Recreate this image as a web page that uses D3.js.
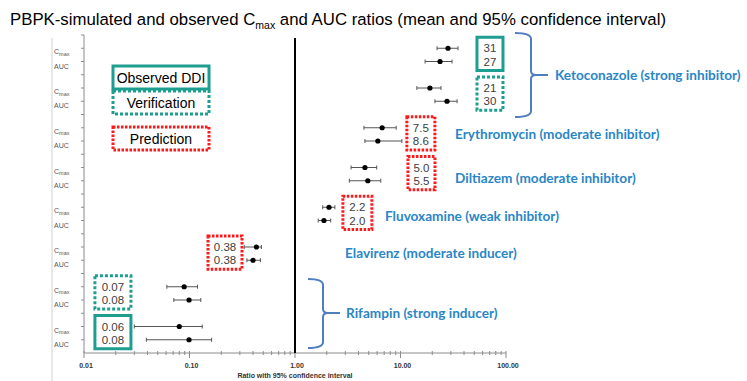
<!DOCTYPE html>
<html>
<head>
<meta charset="utf-8">
<script src="https://cdn.jsdelivr.net/npm/d3@7"></script>
<style>
  body { margin: 0; background: #fff; }
  svg { display: block; }
</style>
</head>
<body>
<div id="chart"></div>
<script>
// rows top to bottom: one per study arm
const groups = ["Ketoconazole obs", "Ketoconazole ver", "Erythromycin", "Diltiazem",
                "Fluvoxamine", "Efavirenz", "Rifampin ver", "Rifampin obs"];
const cmaxMean = [28.2, 19.0, 6.7, 4.6, 2.1, 0.43, 0.089, 0.080];
const cmaxLow  = [22.2, 14.3, 4.5, 3.4, 1.83, 0.33, 0.061, 0.030];
const cmaxHigh = [35.1, 24.2, 9.1, 5.95, 2.39, 0.48, 0.119, 0.132];
const aucMean  = [23.7, 27.6, 6.1, 4.9, 1.88, 0.40, 0.099, 0.099];
const aucLow   = [17.1, 21.2, 4.6, 3.27, 1.66, 0.35, 0.071, 0.039];
const aucHigh  = [30.8, 34.4, 10.3, 6.5, 2.18, 0.47, 0.128, 0.162];

// numbers written in the boxes
const cmaxText = ["31", "21", "7.5", "5.0", "2.2", "0.38", "0.07", "0.06"];
const aucText  = ["27", "30", "8.6", "5.5", "2.0", "0.38", "0.08", "0.08"];
const boxKind  = ["obs", "ver", "pred", "pred", "pred", "pred", "ver", "obs"];

const legendKinds  = ["obs", "ver", "pred"];
const legendLabels = ["Observed DDI", "Verification", "Prediction"];

const drugLabels = ["Ketoconazole (strong inhibitor)", "Erythromycin (moderate inhibitor)",
                    "Diltiazem (moderate inhibitor)", "Fluvoxamine (weak inhibitor)",
                    "Elavirenz (moderate inducer)", "Rifampin (strong inducer)"];

const xTicks = [0.01, 0.1, 1, 10, 100];
const xTickLabels = ["0.01", "0.10", "1.00", "10.00", "100.00"];

const W = 747, H = 381;
const teal = "#1e9e90", red = "#ff1a1a", blue = "#2a86c6", braceBlue = "#4f7fc0";

const svg = d3.select("#chart").append("svg").attr("width", W).attr("height", H);

const x = d3.scaleLog().domain([0.01, 100]).range([84, 506]);
// 24 slots: three per arm (Cmax, AUC, gap)
const y = d3.scaleLinear().domain([0, 24]).range([35, 353]);
const rowC = i => y(3 * i + 1);
const rowA = i => y(3 * i + 2);

// panel border
svg.append("line").attr("x1", 52).attr("x2", 52).attr("y1", 38).attr("y2", H)
    .style("stroke", "#d0d0d0").style("stroke-width", 1);

// title
const title = svg.append("text").attr("x", 10).attr("y", 25)
    .style("font-family", "Liberation Sans, Arial, sans-serif").style("font-size", "16.8px").style("fill", "#000");
title.append("tspan").text("PBPK-simulated and observed C");
title.append("tspan").text("max").style("font-size", "10.5px").attr("dy", 4);
title.append("tspan").text(" and AUC ratios (mean and 95% confidence interval)").attr("dy", -4);

// y axis
const yAxis = svg.append("g").attr("class", "y-axis");
yAxis.append("line").attr("x1", 84).attr("x2", 84).attr("y1", y(0)).attr("y2", y(24))
    .style("stroke", "#8c8c8c");
yAxis.selectAll("line.tick").data(d3.range(0, 24)).enter().append("line").attr("class", "tick")
    .attr("x1", 81).attr("x2", 84).attr("y1", d => y(d)).attr("y2", d => y(d))
    .style("stroke", "#8c8c8c");

const rowLabels = svg.append("g").style("font-family", "Liberation Sans, Arial, sans-serif")
    .style("font-size", "7px").style("fill", "#555");
groups.forEach((g, i) => {
    const c = rowLabels.append("text").attr("x", 54).attr("y", rowC(i) + 6);
    c.append("tspan").text("C");
    c.append("tspan").text("max").style("font-size", "5.5px").attr("dy", 1.5);
    rowLabels.append("text").attr("x", 54).attr("y", rowA(i) + 7).text("AUC");
});

// x axis
const xAxis = svg.append("g").attr("class", "x-axis");
xAxis.append("line").attr("x1", x(0.01)).attr("x2", x(100)).attr("y1", y(24)).attr("y2", y(24))
    .style("stroke", "#8c8c8c");
const minor = [];
[0.01, 0.1, 1, 10].forEach(d => { for (let k = 2; k < 10; k++) minor.push(d * k); });
xAxis.selectAll("line.minor").data(minor).enter().append("line").attr("class", "minor")
    .attr("x1", d => x(d)).attr("x2", d => x(d)).attr("y1", y(24) - 2).attr("y2", y(24) + 2)
    .style("stroke", "#8c8c8c");
xAxis.selectAll("line.major").data(xTicks).enter().append("line").attr("class", "major")
    .attr("x1", d => x(d)).attr("x2", d => x(d)).attr("y1", y(24) - 2).attr("y2", y(24) + 5)
    .style("stroke", "#8c8c8c");
xAxis.selectAll("text.tl").data(xTicks).enter().append("text").attr("class", "tl")
    .attr("x", d => x(d) + 2).attr("y", y(24) + 15).attr("text-anchor", "middle")
    .style("font-family", "Liberation Sans, Arial, sans-serif").style("font-size", "7px")
    .style("font-weight", "bold").style("fill", "#333")
    .text((d, i) => xTickLabels[i]);
xAxis.append("text").attr("x", 295).attr("y", 378).attr("text-anchor", "middle")
    .style("font-family", "Liberation Sans, Arial, sans-serif").style("font-size", "7px")
    .style("font-weight", "bold").style("fill", "#333")
    .text("Ratio with 95% confidence interval");

// line of unity
svg.append("line").attr("x1", x(1)).attr("x2", x(1)).attr("y1", 38).attr("y2", y(24))
    .style("stroke", "#000").style("stroke-width", 2);

// error bars and means
const pts = [];
groups.forEach((g, i) => {
    pts.push({ yy: rowC(i), m: cmaxMean[i], lo: cmaxLow[i], hi: cmaxHigh[i] });
    pts.push({ yy: rowA(i), m: aucMean[i], lo: aucLow[i], hi: aucHigh[i] });
});
const bars = svg.append("g").style("stroke", "#555").style("stroke-width", 1);
bars.selectAll("line.ci").data(pts).enter().append("line").attr("class", "ci")
    .attr("x1", d => x(d.lo)).attr("x2", d => x(d.hi)).attr("y1", d => d.yy).attr("y2", d => d.yy);
bars.selectAll("line.capL").data(pts).enter().append("line")
    .attr("x1", d => x(d.lo)).attr("x2", d => x(d.lo)).attr("y1", d => d.yy - 2).attr("y2", d => d.yy + 2);
bars.selectAll("line.capR").data(pts).enter().append("line")
    .attr("x1", d => x(d.hi)).attr("x2", d => x(d.hi)).attr("y1", d => d.yy - 2).attr("y2", d => d.yy + 2);
svg.append("g").selectAll("circle").data(pts).enter().append("circle")
    .attr("cx", d => x(d.m)).attr("cy", d => d.yy).attr("r", 2.6).style("fill", "#000");

// box styles
const boxStyle = {
    obs:  { stroke: teal, dash: null, w: 3 },
    ver:  { stroke: teal, dash: "3,2", w: 3 },
    pred: { stroke: red, dash: "2.5,1.5", w: 3 }
};
function drawBox(g, x0, y0, w, h, kind) {
    const s = boxStyle[kind];
    g.append("rect").attr("x", x0).attr("y", y0).attr("width", w).attr("height", h)
        .style("fill", "#fff").style("stroke", s.stroke).style("stroke-width", s.w)
        .style("stroke-dasharray", s.dash);
}

// legend
const legend = svg.append("g");
legendKinds.forEach((k, i) => {
    const y0 = [66, 91, 127][i];
    drawBox(legend, 113, y0, 96, 23, k);
    legend.append("text").attr("x", 161).attr("y", y0 + 16.5).attr("text-anchor", "middle")
        .style("font-family", "Liberation Sans, Arial, sans-serif").style("font-size", "14px")
        .style("fill", "#000").text(legendLabels[i]);
});

// value boxes, centred at a ratio on the x axis
const boxCentre = [70.5, 70.5, 15.6, 15.8, 3.9, 0.217, 0.0188, 0.0188];
const boxWidth  = [26, 26, 28, 27, 29, 34, 36, 36];
const vb = svg.append("g");
groups.forEach((g, i) => {
    const cx = x(boxCentre[i]);
    drawBox(vb, cx - boxWidth[i] / 2, rowC(i) - 11, boxWidth[i], rowA(i) - rowC(i) + 20, boxKind[i]);
    [[cmaxText[i], rowC(i)], [aucText[i], rowA(i)]].forEach(([t, yy]) => {
        vb.append("text").attr("x", cx).attr("y", yy + 4).attr("text-anchor", "middle")
            .style("font-family", "Liberation Sans, Arial, sans-serif").style("font-size", "11.5px")
            .style("fill", "#404040").text(t);
    });
});

// drug labels
const labelPos = [[555, 75], [455, 134], [455, 178], [385, 216], [345, 253], [346, 313]];
svg.append("g").selectAll("text").data(drugLabels).enter().append("text")
    .attr("x", (d, i) => labelPos[i][0]).attr("y", (d, i) => labelPos[i][1] + 4.5)
    .style("font-family", "Lato, Open Sans, sans-serif").style("font-size", "13.6px")
    .style("font-weight", "bold").style("fill", blue).text(d => d);

// curly braces
function brace(xL, xV, yT, yB, yTip, xTip) {
    return `M${xL},${yT} Q${xV},${yT} ${xV},${yT + 6} L${xV},${yTip - 4} Q${xV},${yTip} ${xV + 5},${yTip} L${xTip},${yTip}`
         + ` M${xV + 5},${yTip} Q${xV},${yTip} ${xV},${yTip + 4} L${xV},${yB - 6} Q${xV},${yB} ${xL},${yB}`;
}
svg.append("path").attr("d", brace(515, 531, 33, 117, 75, 548))
    .style("fill", "none").style("stroke", braceBlue).style("stroke-width", 2);
svg.append("path").attr("d", brace(308, 323, 279, 348, 313, 340))
    .style("fill", "none").style("stroke", braceBlue).style("stroke-width", 2);
</script>
</body>
</html>
